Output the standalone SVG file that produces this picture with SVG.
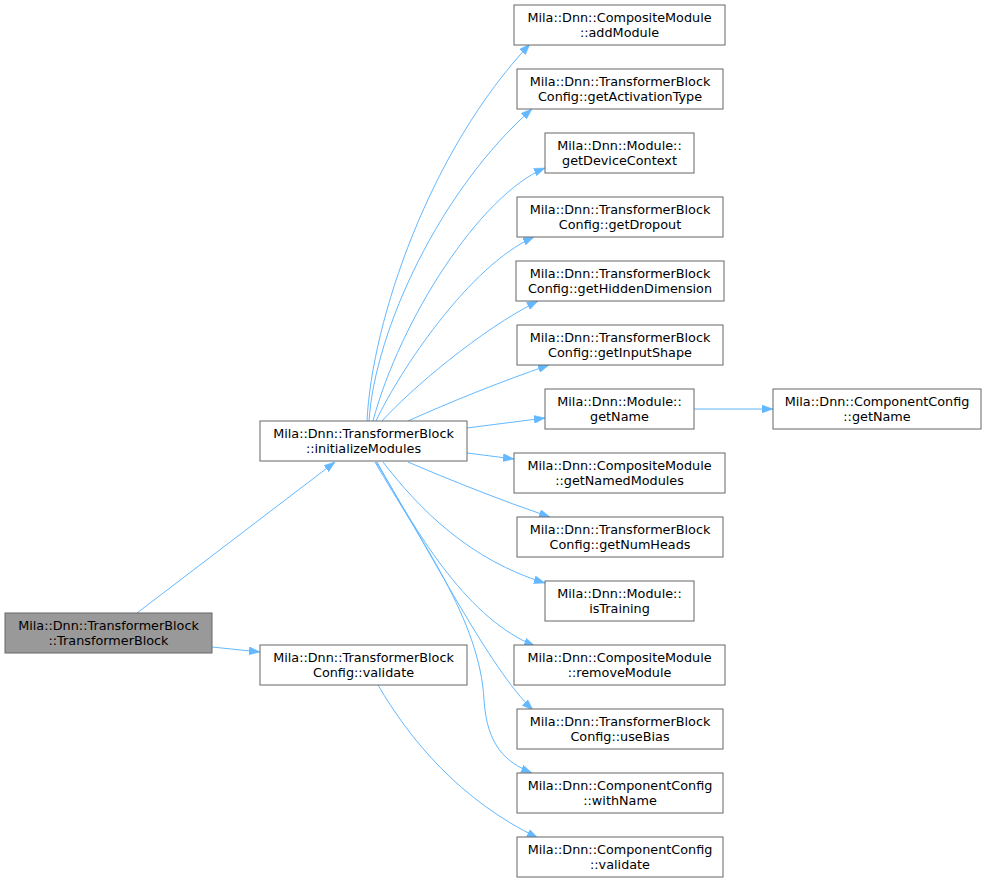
<svg xmlns="http://www.w3.org/2000/svg" width="987" height="883" viewBox="0 0 987 883">
<style>
.node rect{fill:#ffffff;stroke:#666666;stroke-width:1}
.node.main rect{fill:#999999}
.node text{font-family:"DejaVu Sans",sans-serif;font-size:12.8px;fill:#000000;text-anchor:middle}
.edges path{fill:none;stroke:#63b8ff;stroke-width:1;marker-end:url(#arr)}
</style>
<defs>
<marker id="arr" markerUnits="userSpaceOnUse" viewBox="0 0 11 8" refX="11" refY="4" markerWidth="11" markerHeight="8" orient="auto">
<path d="M0,0 L11,4 L0,8 Z" fill="#63b8ff" stroke="#63b8ff" stroke-width="0.5"/>
</marker>
</defs>
<rect width="987" height="883" fill="#ffffff"/>
<g class="edges" id="edges">
<path d="M137,613 L335,462"/>
<path d="M212,647 L260,652"/>
<path d="M367,421 C372,320 430,150 530,44"/>
<path d="M369,421 C375,330 440,190 532,109"/>
<path d="M373,421 C400,320 480,195 545,168"/>
<path d="M376,421 C400,370 470,265 534,237"/>
<path d="M382,421 C410,390 480,330 538,301"/>
<path d="M408,421 C450,402 500,382 549,365"/>
<path d="M467,428 L545,418"/>
<path d="M467,453 L514,459"/>
<path d="M694,409 L773,409"/>
<path d="M408,462 C450,480 500,500 550,517"/>
<path d="M383,462 C420,510 470,560 545,583"/>
<path d="M377,462 C420,540 470,620 535,646"/>
<path d="M376,462 C430,550 490,670 533,710"/>
<path d="M375,462 C420,540 480,620 484,700 C487,745 505,762 532,773"/>
<path d="M378,685 C410,740 460,800 538,838"/>
</g>
<g id="n0" class="node main"><rect x="5" y="613" width="207" height="40"/><text x="108.5" y="629.5">Mila::Dnn::TransformerBlock</text><text x="108.5" y="644.5">::TransformerBlock</text></g>
<g id="n1" class="node"><rect x="260" y="421" width="207" height="40"/><text x="363.5" y="437.5">Mila::Dnn::TransformerBlock</text><text x="363.5" y="452.5">::initializeModules</text></g>
<g id="n17" class="node"><rect x="260" y="645" width="207" height="40"/><text x="363.5" y="661.5">Mila::Dnn::TransformerBlock</text><text x="363.5" y="676.5">Config::validate</text></g>
<g id="n2" class="node"><rect x="514" y="5" width="211" height="40"/><text x="619.5" y="21.5">Mila::Dnn::CompositeModule</text><text x="619.5" y="36.5">::addModule</text></g>
<g id="n3" class="node"><rect x="517" y="69" width="206" height="40"/><text x="620" y="85.5">Mila::Dnn::TransformerBlock</text><text x="620" y="100.5">Config::getActivationType</text></g>
<g id="n4" class="node"><rect x="545" y="133" width="149" height="40"/><text x="619.5" y="149.5">Mila::Dnn::Module::</text><text x="619.5" y="164.5">getDeviceContext</text></g>
<g id="n5" class="node"><rect x="517" y="197" width="206" height="40"/><text x="620" y="213.5">Mila::Dnn::TransformerBlock</text><text x="620" y="228.5">Config::getDropout</text></g>
<g id="n6" class="node"><rect x="516" y="261" width="208" height="40"/><text x="620" y="277.5">Mila::Dnn::TransformerBlock</text><text x="620" y="292.5">Config::getHiddenDimension</text></g>
<g id="n7" class="node"><rect x="517" y="325" width="206" height="40"/><text x="620" y="341.5">Mila::Dnn::TransformerBlock</text><text x="620" y="356.5">Config::getInputShape</text></g>
<g id="n8" class="node"><rect x="545" y="389" width="149" height="40"/><text x="619.5" y="405.5">Mila::Dnn::Module::</text><text x="619.5" y="420.5">getName</text></g>
<g id="n9" class="node"><rect x="773" y="389" width="208" height="40"/><text x="877" y="405.5">Mila::Dnn::ComponentConfig</text><text x="877" y="420.5">::getName</text></g>
<g id="n10" class="node"><rect x="514" y="453" width="211" height="40"/><text x="619.5" y="469.5">Mila::Dnn::CompositeModule</text><text x="619.5" y="484.5">::getNamedModules</text></g>
<g id="n11" class="node"><rect x="517" y="517" width="206" height="40"/><text x="620" y="533.5">Mila::Dnn::TransformerBlock</text><text x="620" y="548.5">Config::getNumHeads</text></g>
<g id="n12" class="node"><rect x="545" y="581" width="149" height="40"/><text x="619.5" y="597.5">Mila::Dnn::Module::</text><text x="619.5" y="612.5">isTraining</text></g>
<g id="n13" class="node"><rect x="514" y="645" width="211" height="40"/><text x="619.5" y="661.5">Mila::Dnn::CompositeModule</text><text x="619.5" y="676.5">::removeModule</text></g>
<g id="n14" class="node"><rect x="517" y="709" width="206" height="40"/><text x="620" y="725.5">Mila::Dnn::TransformerBlock</text><text x="620" y="740.5">Config::useBias</text></g>
<g id="n15" class="node"><rect x="517" y="773" width="206" height="40"/><text x="620" y="789.5">Mila::Dnn::ComponentConfig</text><text x="620" y="804.5">::withName</text></g>
<g id="n16" class="node"><rect x="517" y="837" width="206" height="40"/><text x="620" y="853.5">Mila::Dnn::ComponentConfig</text><text x="620" y="868.5">::validate</text></g>
</svg>
